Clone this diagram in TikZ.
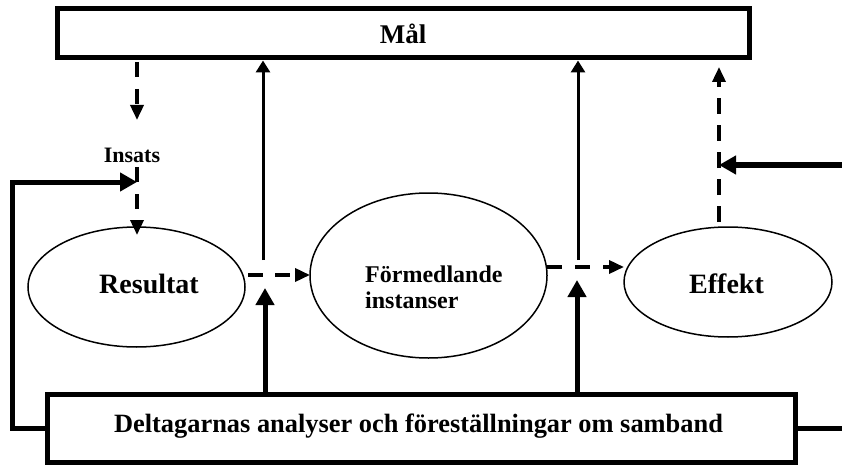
\documentclass[tikz,border=0pt]{standalone}
\usepackage{fontspec}
\setmainfont{Liberation Serif}
\usetikzlibrary{arrows.meta,shapes.geometric}
\begin{document}
\begin{tikzpicture}[x=1pt,y=-1pt,
  bigbox/.style={draw, line width=5pt, inner sep=0pt, font=\bfseries\fontsize{27}{29}\selectfont},
  oval/.style={ellipse, draw, line width=1.5pt, inner sep=0pt},
  lbl/.style={inner sep=0pt, font=\bfseries\fontsize{28}{30}\selectfont},
  thinarrow/.style={line width=3pt, -{Triangle[length=12pt,width=14pt]}},
  thickarrow/.style={line width=5pt, -{Triangle[length=17pt,width=18pt]}},
  thickline/.style={line width=5pt},
  dasharrow/.style={line width=3.5pt, dash pattern=on 15pt off 12pt, -{Triangle[length=15pt,width=13pt]}},
]
\useasboundingbox (0,0) rectangle (842,465);
% boxes
\node[bigbox, minimum width=692pt, minimum height=49pt] (mal) at (403,33.5) {Mål};
\node[bigbox, minimum width=748pt, minimum height=68pt] (delt) at (421,428) {};
\node[inner sep=0pt, anchor=base, font=\bfseries\fontsize{26.4}{28}\selectfont] (delttext) at (418.5,432) {Deltagarnas analyser och föreställningar om samband};
% ellipses
\node[oval, minimum width=217pt, minimum height=120pt] (resultat) at (136.5,287) {};
\node[lbl, anchor=base] (resultattext) at (149,293) {Resultat};
\node[oval, minimum width=237pt, minimum height=165pt] (formed) at (428.5,275.5) {};
\node[inner sep=0pt, anchor=base west, align=left, font=\bfseries\fontsize{24}{26}\selectfont] (formedtext) at (365,308) {Förmedlande\\instanser};
\node[oval, minimum width=208pt, minimum height=110pt] (effekt) at (728,282) {};
\node[lbl, anchor=base] (effekttext) at (726.5,293) {Effekt};
% Insats
\node[inner sep=0pt, anchor=base, font=\bfseries\fontsize{22}{24}\selectfont] (insats) at (132,162) {Insats};
% coordinates
\coordinate (ins1) at (137,62);
\coordinate (ins2) at (137,120);
\coordinate (ins3) at (137,167);
\coordinate (ins4) at (137,235);
\coordinate (fb) at (137,182);
\coordinate (leftx) at (12,0);
\coordinate (j1) at (263,260);
\coordinate (j1b) at (265,288);
\coordinate (j2) at (578,260);
\coordinate (j2b) at (577,280);
\coordinate (effup) at (719,67);
\coordinate (effdown) at (719,222);
\coordinate (rin) at (842,165);
\coordinate (rout) at (845,428);
% Mål -> Insats -> Resultat
\draw[dasharrow] (ins1) -- (ins2);
\draw[dasharrow] (ins3) -- (ins4);
% feedback left
\draw[thickarrow] (delt.west) -- (leftx |- delt.west) -- (leftx |- fb) -- (fb);
% feedback right
\draw[thickline] (delt.east) -- (rout);
\draw[thickarrow] (rin) -- (rin -| effup);
% Resultat -> Förmedlande -> Effekt
\draw[dasharrow] (248,275) -- (310,275);
\draw[dasharrow, dash pattern=on 15pt off 13pt] (547,267) -- (624,267);
% up to Mål
\draw[thinarrow] (j1) -- (j1 |- mal.south);
\draw[thinarrow] (j2) -- (j2 |- mal.south);
\draw[dasharrow, dash pattern=on 16pt off 11pt] (effdown) -- (effup);
% from Deltagarnas
\draw[thickarrow] (j1b |- delt.north) -- (j1b);
\draw[thickarrow] (j2b |- delt.north) -- (j2b);
\end{tikzpicture}
\end{document}
